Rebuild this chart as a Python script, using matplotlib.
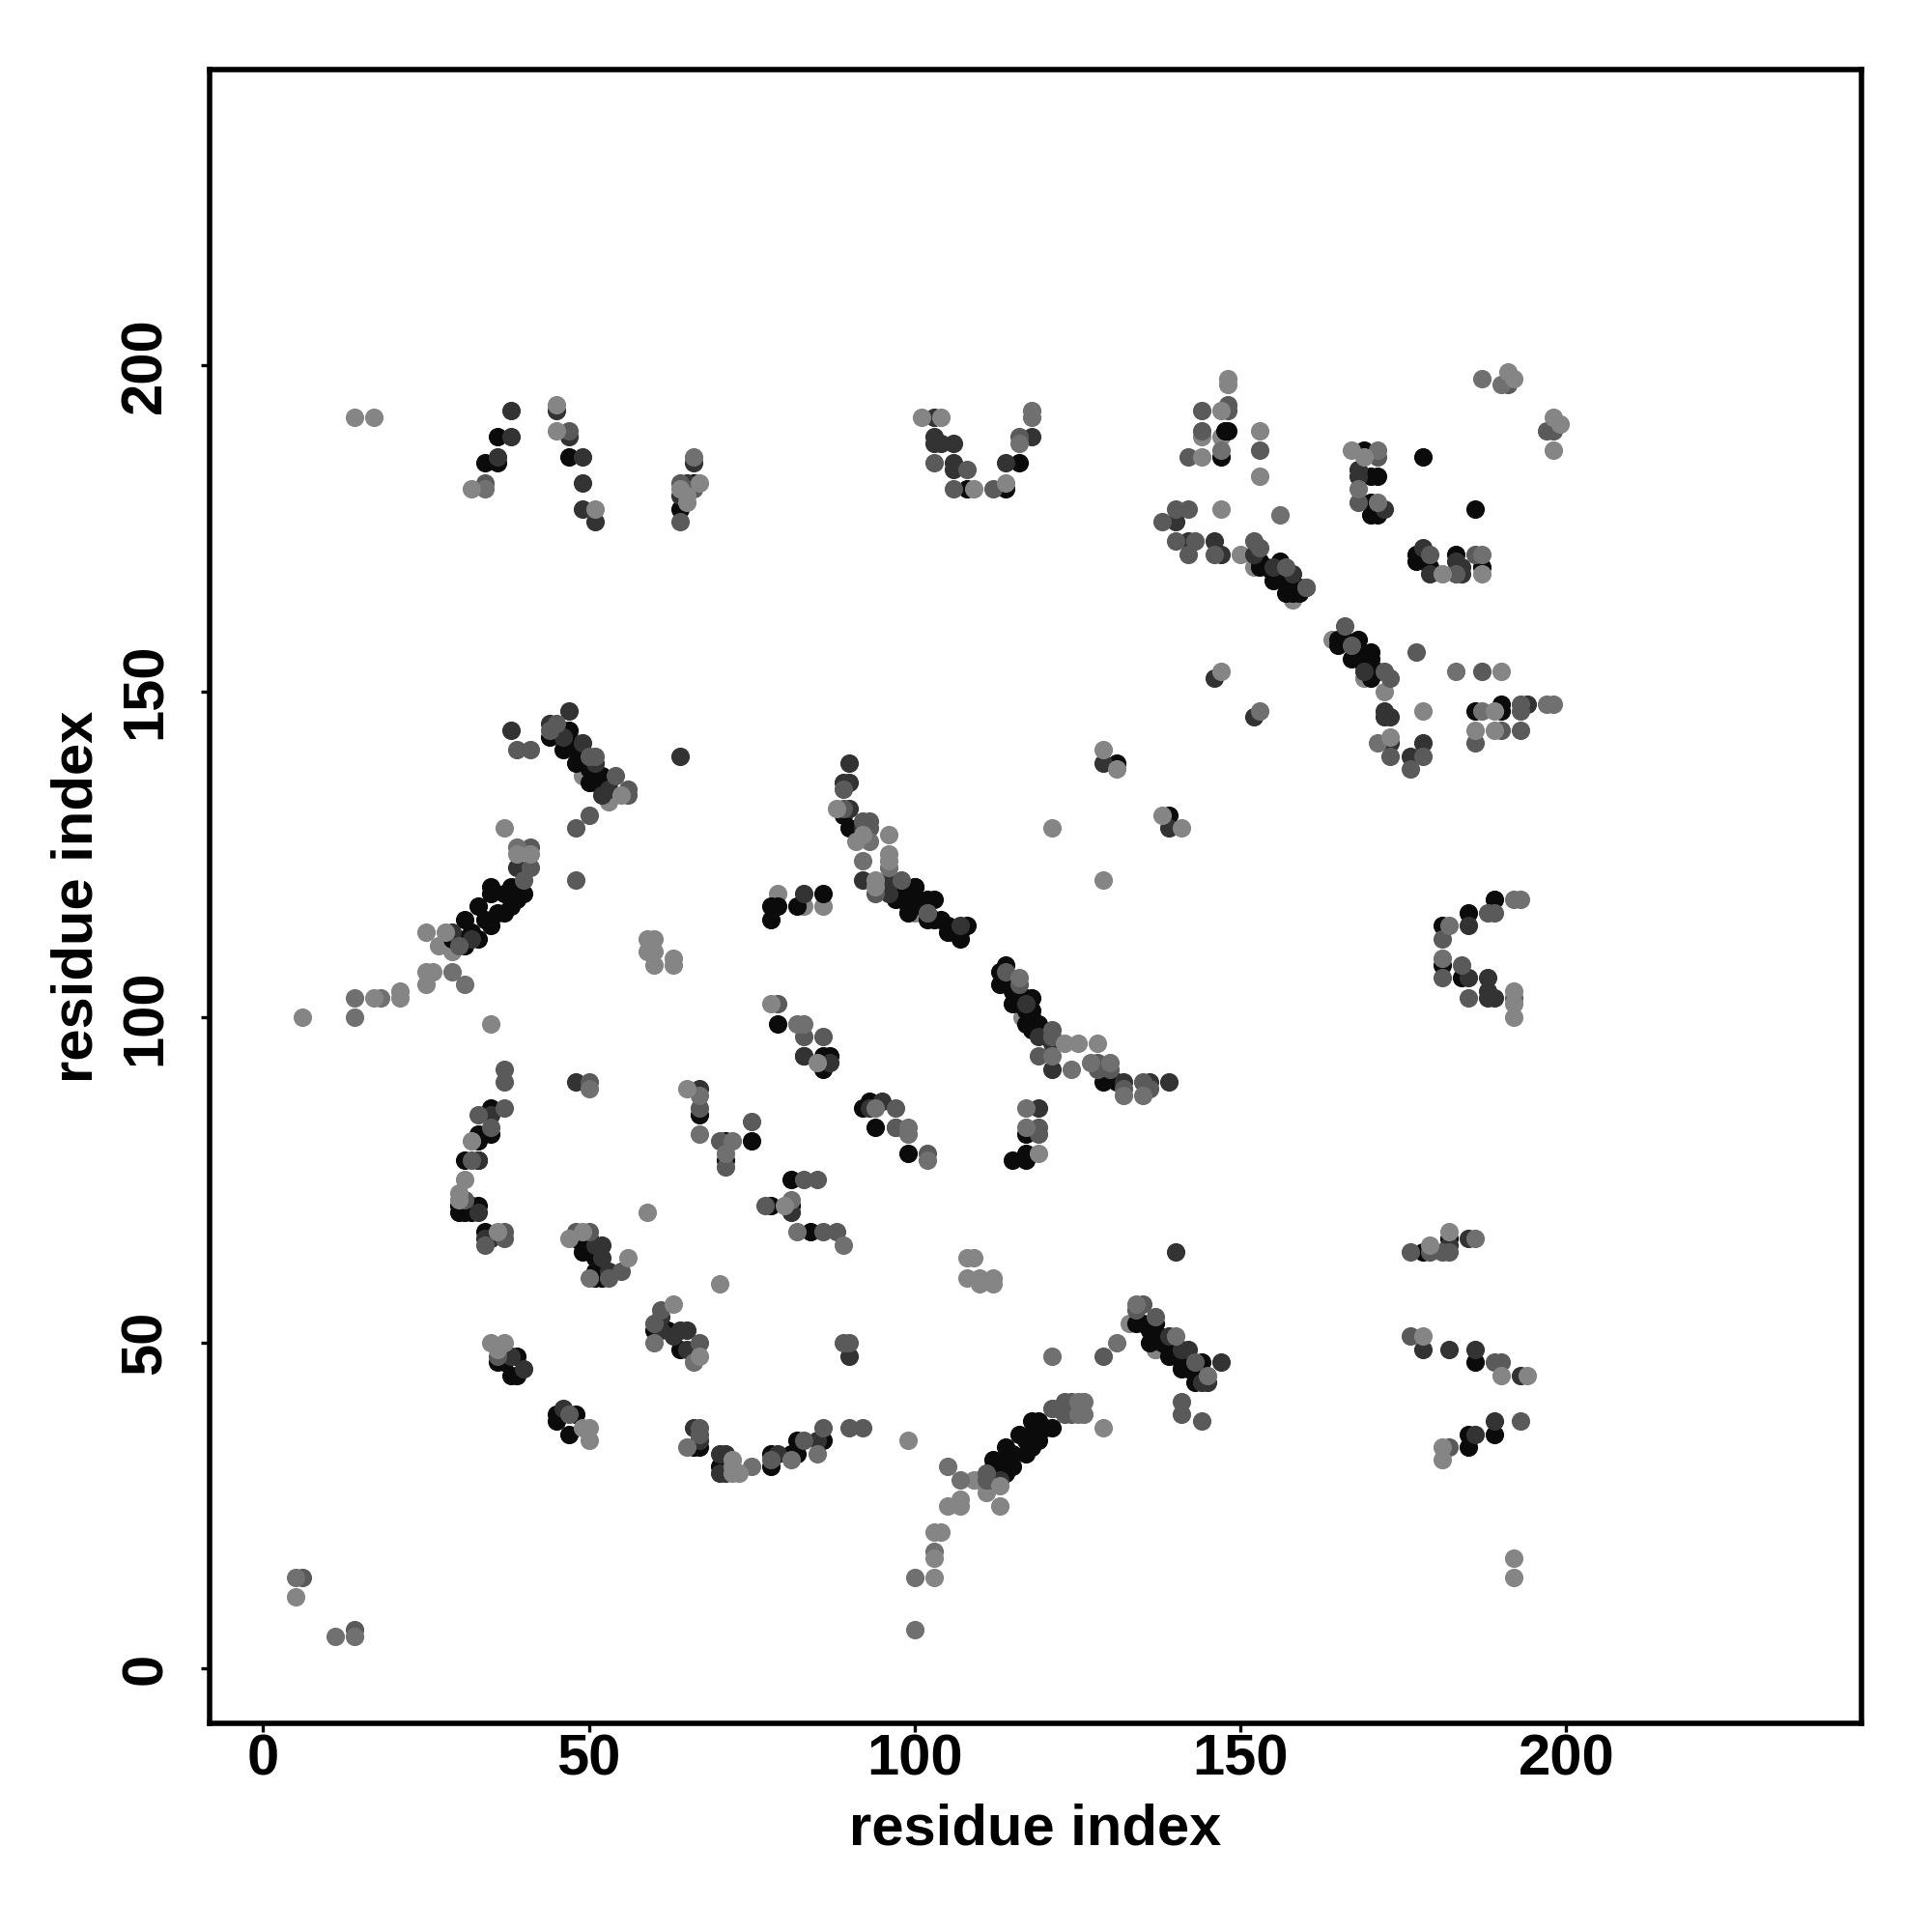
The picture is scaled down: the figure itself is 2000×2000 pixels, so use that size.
import matplotlib
matplotlib.use("Agg")
import matplotlib.pyplot as plt

plt.rcParams['font.family'] = ['Liberation Sans', 'DejaVu Sans']

light_under = [(48,142),(49,137),(53,133),(116.5,100),(137,49),(100,116),(152,169),(158,164),(169,152),(172,150),(164,158),(133,53),
(29,110),(27,111),(109,29),(110,29),(111,27),(79,119),(83,117),(86,117),(137,49),(150,171),(144,189),(147,189)]

light = [(14,192),(17,192),(32,181),(45,194),(45,190),(51,178),(64,181),(65,180),(65,179),(67,182),
(55,134),(37,129),(39,125),(41,125),(25,113),(28,113),
(25,107),(26,107),(25,105),(17,103),(21,104),(21,103),(6,100),(35,99),(59,112),(60,112),(59,110),(60,110),(60,108),(63,109),(63,108),
(78,102),(65,89),(32,81),(30,73),(30,72),(31,75),(36,67),(47,66),(49,67),(56,63),(59,70),(70,59),(80,71),
(63,56),(67,48),(35,50),(37,50),(36,49),(50,37),(49,37),(50,35),
(5,11),(103,14),(103,17),(103,21),(104,21),(105,25),(107,25),(107,26),(113,25),(113,28),(99,35),
(72,31),(72,30),(73,30),(72,32),(108,63),(109,63),(108,60),(110,60),(112,60),(110,59),(112,59),
(123,96),(125,96),(128,96),(85,93),(192,104),(192,102),(192,100),
(179,65),(182,67),(178,51),(190,45),(194,45),(181,34),(181,32),(192,17),(192,14),(129,37),
(101,192),(104,192),(109,181),(114,182),(148,198),(148,197),(147,193),(144,186),(153,190),(153,183),(147,178),
(167,187),(169,186),(198,187),(198,192),(199,191),(191,199),(192,198),(181,168),(187,168),
(190,153),(178,147),(189,147),(186,144),(189,144),(173,143),
(147,153),(129,141),(121,129),(129,121),(138,131),(141,129),(88,132),(92,128),(91,127),(96,128),(96,125),(96,124),(94,121),(94,120),(131,138),(119,79)]

lightmid = [(66,186),(34,181),(39,126),(14,103),(18,103),(29,107),(31,105),(14,100),(50,89),(67,88),(67,82),(72,81),(71,79),
(82,99),(83,99),(82,67),(81,72),(60,50),(66,47),(89,65),(50,60),(11,5),(14,5),(5,14),(100,6),(100,14),(103,18),(107,29),(105,31),
(85,33),(81,32),(75,31),(65,34),(116,106),(121,94),(124,92),(127,93),(130,93),(132,88),(135,88),(117,86),(117,83),(102,78),(99,83),(99,82),
(182,114),(181,109),(192,118),(193,118),(186,66),(125,41),(126,41),(125,39),(126,39),(121,48),(131,50),(134,56),(140,51),(145,45),
(118,193),(118,192),(116,188),(171,187),(187,198),(190,197),(168,181),(171,179),(183,153),(187,147),(171,142),(197,148),(198,148),(147,187),(156,177),(153,147),(93,127),(92,124),(96,123),(187,171),(94,86)]

mid = [(47,190),(34,182),(64,182),(64,176),(66,181),(44,144),(45,145),(50,140),(51,140),(54,137),(56,135),(56,134),(48,129),(50,131),
(39,141),(41,141),(48,121),(41,126),(40,121),(41,123),(30,111),(79,102),(83,97),(37,92),(37,90),(50,90),(67,86),(37,86),(33,85),(35,83),
(70,81),(71,77),(32,78),(31,72),(34,65),(37,67),(37,66),(48,67),(50,67),(53,60),(55,61),(75,84),(77,71),(83,75),(61,55),(60,53),(67,50),(36,48),(47,39),
(6,14),(14,6),(92,37),(90,37),(86,37),(83,35),(89,50),(90,50),(78,32),(67,37),(67,36),(94,119),(102,116),(86,97),
(114,107),(116,105),(121,98),(121,97),(119,94),(128,93),(130,92),(128,92),(132,89),(135,90),(136,89),(97,86),(97,83),(102,79),(119,83),(119,82),(85,75),(86,67),(88,67),
(181,112),(184,108),(181,106),(185,103),(192,103),(189,116),(188,116),(176,64),(179,64),(181,64),(182,64),(176,51),(189,47),(190,47),(193,38),(182,34),(141,41),(141,39),(144,38),(129,48),
(135,56),(134,55),(137,54),(143,47),(121,40),(123,41),(124,41),(123,39),(124,39),(111,30),(111,29),
(103,185),(108,184),(106,181),(112,181),(116,189),(148,194),(148,193),(144,193),(144,190),(142,186),(153,187),(142,178),(140,178),(138,176),(140,173),(143,173),(142,171),(146,171),
(152,173),(153,172),(157,169),(160,166),(171,186),(168,179),(198,190),(197,190),(191,197),(179,171),(183,168),(186,171),
(166,160),(167,157),(172,153),(173,152),(177,156),(187,153),(193,148),(193,147),(190,144),(193,144),(186,142),(173,140),(176,138),(178,140),
(89,135),(89,132),(92,130),(93,130),(93,129),(98,121),(97,83)]

dark = [(38,193),(38,189),(36,186),(45,193),(47,189),(49,186),(49,182),(49,178),(51,176),(66,185),(65,182),(64,180),
(47,147),(38,144),(44,145),(46,143),(49,142),(51,139),(53,135),(52,134),(64,140),(39,123),(32,112),(29,113),
(48,90),(67,89),(35,85),(33,78),(33,70),(34,66),(35,66),(51,65),(52,65),(52,63),(53,61),(61,54),(61,52),(64,52),(65,52),(63,51),(65,49),(38,48),(40,46),(46,40),
(71,33),(70,33),(70,30),(71,30),(66,37),(67,35),(85,35),(79,33),(90,48),(83,119),(81,70),(83,94),
(107,114),(102,116),(117,102),(119,97),(121,96),(121,92),(132,90),(136,90),(139,90),(95,87),(93,86),(119,86),
(185,114),(185,106),(188,106),(188,103),(189,103),(188,104),(140,64),(182,65),(185,66),(178,49),(182,49),(186,49),(193,45),(189,38),(186,36),
(147,47),(139,51),(141,49),(142,49),(144,44),(145,44),(113,29),(112,29),(122,40),
(103,192),(103,189),(103,188),(104,188),(106,188),(106,185),(106,184),(114,185),(118,189),(140,176),(142,173),(146,173),(147,171),(152,171),(155,169),(158,168),(160,166),
(168,184),(168,183),(172,178),(178,172),(179,168),(184,168),(184,169),(183,170),(169,153),(172,147),(172,146),(173,146),(173,142),(176,140),(178,142),(194,148),
(146,152),(152,146),(129,139),(139,129),(90,139),(89,136),(90,136),(90,132),(92,129),(92,121),(96,121),(96,119),(87,93)]

black = [(36,189),(34,185),(36,185),(47,186),(66,182),(64,178),(44,143),(46,144),(47,144),(46,141),(48,139),(50,136),(50,139),(51,136),(52,137),
(38,118),(36,116),(33,117),(31,115),(35,119),(32,113),(34,115),(29,112),(30,112),(35,120),(37,119),(39,120),(38,120),(78,115),(78,117),(79,117),(82,117),
(79,99),(83,94),(67,85),(35,86),(35,82),(33,82),(33,81),(33,78),(31,78),(30,71),(30,70),(31,70),(33,71),(32,71),(32,70),(34,67),(48,66),(49,64),(50,66),(52,60),
(75,81),(71,81),(71,78),(81,75),(78,71),(81,71),(84,67),(60,52),(62,52),(64,49),(36,47),(39,48),(38,45),(39,45),(37,47),
(45,39),(45,38),(48,39),(47,36),(86,35),(82,35),(82,33),(81,33),(78,33),(78,31),(70,31),(67,34),(66,34),
(86,119),(97,119),(98,119),(99,119),(99,117),(102,118),(103,118),(102,115),(105,113),(107,113),(108,114),(100,120),
(114,108),(113,107),(113,105),(115,102),(117,103),(118,103),(117,99),(118,100),(129,90),(131,90),(87,94),(86,92),(86,94),
(92,86),(93,87),(94,83),(99,79),(117,82),(117,79),(115,78),(117,78),
(181,114),(185,116),(181,108),(184,106),(189,118),(178,64),(182,66),(186,47),(144,47),(189,36),(185,36),(185,34),
(134,53),(135,53),(137,53),(136,50),(137.5,51),(136.5,51),(139,48),(140,48),(142,46),(141,46),(143,44),
(112,32),(112,31),(114,34),(115,31),(114,32),(116,36),(117,33),(118,34),(118,38),(119,38),(119,35),(120,37),(121,37),
(108,181),(114,181),(116,185),(147.6,190),(148,190),(147,186),(153,170),(153,169),(156,170),(155,167),(157,165),(158,165),(159,166),
(169,187),(170,183),(171,183),(170,179),(170,177),(171,177),(178,186),(186,178),(177,171),(177,170),(179,169),(183,171),(187,169),
(165,158),(165,157),(168,158),(167,155),(170,156),(170,155),(170,152),(186,147),(190,148),(190,147),(131,139),(139,131),(90,129),(89,131),(100,120)]

black_bands = [(31,111),(33,112),(35,114),(37,116),(38,117),(39,118),(40,119),
(47,142),(48,141),(49,140),(50,138),(51,137),(52,136),(53,136),
(97,118),(99,116),(101,117),(103,115),(104,115),(105,114),(106,113),(107,112),(100,118),
(114,106),(115,104),(116,103),(116,102),(117,101),(118,101),(118,98),(119,99),
(154,169),(155,168),(156,168),(157,167),(158,166),(159,165),
(166,158),(167,157),(168,156),(169,155),(169,154),(170,154),(171,153),
(136,52),(137,51),(138,50),(139,49),(140,49),(141,47),(142,47),(143,46),(144,45),
(113,31),(115,33),(117,35),(118,36),(119,37),(114,30),
(49,65),(50,64),(51,63),(51,61),(51,60)]

x_ticks = [0, 50, 100, 150, 200]
y_ticks = [0, 50, 100, 150, 200]
x_label = "residue index"
y_label = "residue index"

groups = [(light_under, '#858585'), (black, '#0b0b0b'), (black_bands, '#0b0b0b'), (dark, '#333333'), (mid, '#5a5a5a'), (lightmid, '#707070'), (light, '#858585')]

fig = plt.figure(figsize=(20, 20), dpi=100, facecolor='white')
ax = fig.add_axes([217/2000, 1-1784/2000, (1927-217)/2000, (1784-72)/2000])
for pts, col in groups:
    ax.scatter([p[0] for p in pts], [p[1] for p in pts], s=190, c=col, linewidths=0, zorder=2)

ax.set_xlim(-8.2, 245.3)
ax.set_ylim(-8.4, 245.4)
ax.set_xticks(x_ticks)
ax.set_yticks(y_ticks)
ax.tick_params(axis='x', length=6.5, width=2.4, labelsize=43, pad=1)
ax.tick_params(axis='y', length=6.5, width=2.4, labelsize=43, pad=21)
for lab in ax.get_xticklabels():
    lab.set_fontweight('bold')
for lab in ax.get_yticklabels():
    lab.set_fontweight('bold')
    lab.set_rotation(90)
    lab.set_va('center')
for s in ax.spines.values():
    s.set_linewidth(4)
ax.set_xlabel(x_label, fontsize=43, fontweight='bold', labelpad=12)
ax.set_ylabel(y_label, fontsize=43, fontweight='bold', labelpad=12)
fig.savefig('out.png', dpi=100, facecolor='white')
